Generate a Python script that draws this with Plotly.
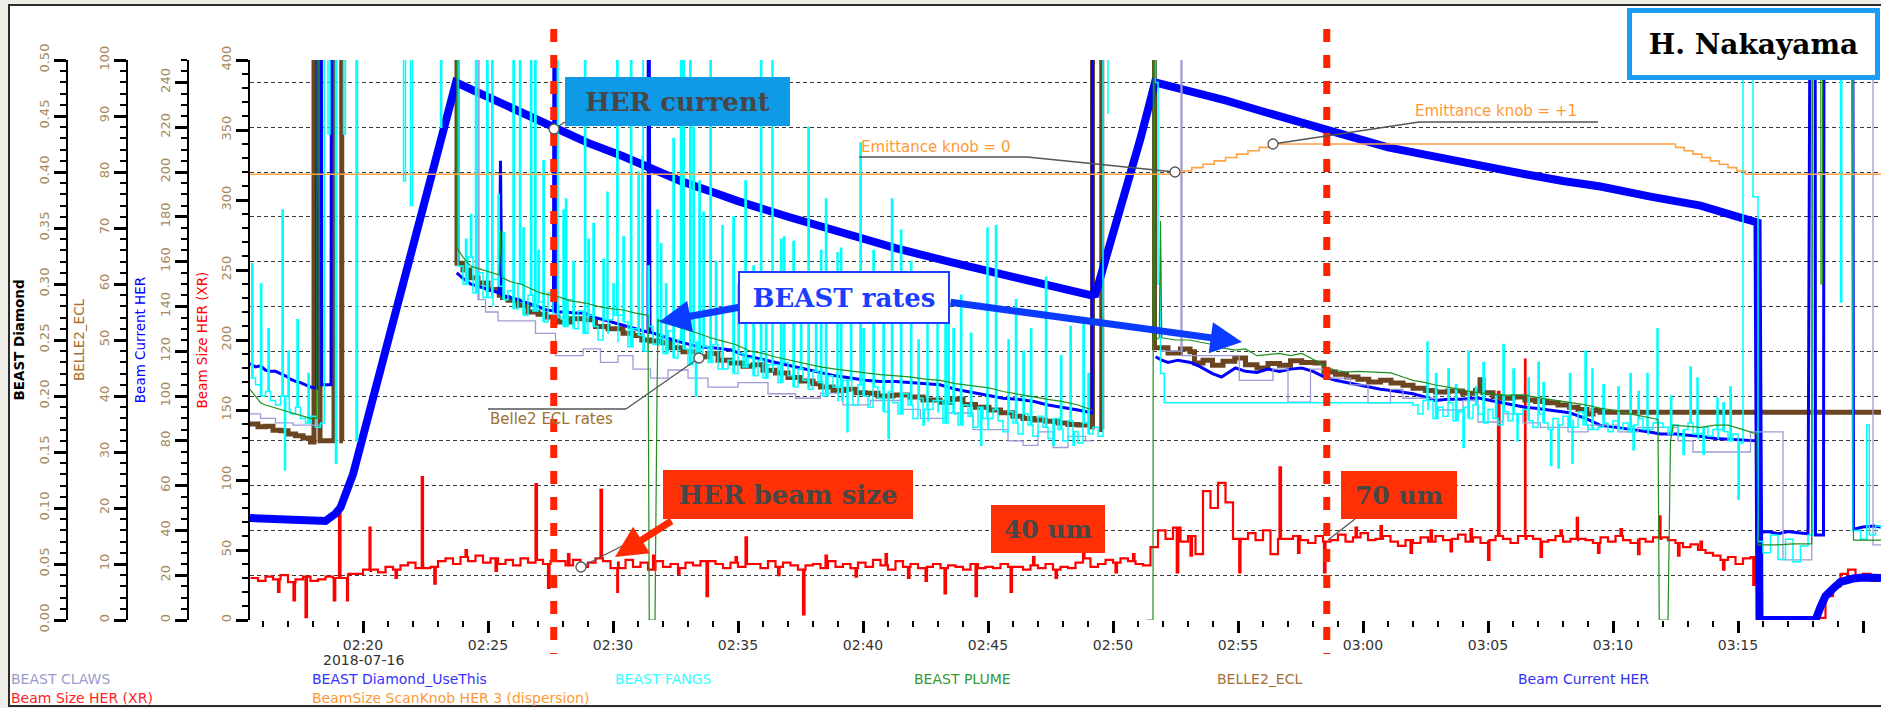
import pandas as pd
import plotly.graph_objects as go

# ---------------------------------------------------------------- data
# time values are minutes after 2018-07-16 02:00:00
DAY0 = pd.Timestamp("2018-07-16 02:00:00")
X_START, X_END = 15.48, 80.72
GAP = (None, None)

legend_names = ["BEAST CLAWS", "BEAST Diamond_UseThis", "BEAST FANGS", "BEAST PLUME",
                "BELLE2_ECL", "Beam Current HER", "Beam Size HER (XR)",
                "BeamSize ScanKnob HER 3 (dispersion)"]

# Beam Current HER [mA]
beam_current = [
    (15.48, 45.5), (16.5, 45.2), (17.5, 44.8), (18.1, 44.0), (18.5, 44.2), (18.9, 47.5), (19.1, 50.2),
    (19.6, 65.0), (20.0, 82.0), (20.6, 108.0), (21.2, 130.0), (21.7, 153.0), (22.2, 175.0), (22.7, 197.0),
    (23.2, 218.0), (23.72, 240.0), (24.5, 236.0), (25.5, 231.0), (26.5, 225.5), (27.64, 219.5), (29.0, 213.0),
    (30.4, 207.0), (31.5, 201.5), (32.7, 196.0), (34.0, 191.0), (35.0, 187.0), (37.0, 180.0), (39.1, 173.0),
    (41.3, 166.0), (43.6, 159.5), (46.3, 152.0), (49.1, 145.0), (49.3, 145.5), (49.9, 168.0), (50.5, 190.0),
    (51.1, 215.0), (51.68, 240.0), (53.0, 236.5), (54.5, 232.0), (56.0, 227.0), (57.5, 222.0), (59.0, 217.0),
    (61.0, 211.0), (63.3, 206.0), (65.0, 202.0), (66.5, 199.0), (68.0, 196.0), (69.5, 193.5), (71.5, 189.0),
    (73.5, 185.0), (75.0, 180.0), (75.78, 177.5), (75.86, 0.0), (76.5, 0.0), (77.5, 0.0), (78.1, 0.0),
    (78.3, 5.8), (78.5, 10.7), (78.8, 14.0), (79.1, 17.0), (79.6, 18.5), (80.0, 19.0), (80.72, 18.7)]

# Beam Size HER (XR) [um]: baseline reading every 0.3 min from 15.5 min ...
size_start, size_step = 15.5, 0.3
beam_size = [
    30, 28, 31, 29, 32, 27, 29, 31, 28, 29,
    31, 30, 33, 32, 33, 36, 35, 34, 38, 36,
    39, 41, 37, 40, 38, 42, 44, 40, 45, 42,
    46, 41, 44, 40, 43, 39, 44, 41, 43, 40,
    42, 42, 39, 43, 38, 41, 44, 42, 37, 41,
    43, 38, 41, 36, 42, 38, 40, 37, 41, 39,
    42, 40, 40, 37, 41, 38, 40, 40, 37, 42,
    38, 41, 39, 36, 39, 40, 37, 42, 38, 40,
    37, 41, 38, 43, 39, 36, 42, 38, 40, 37,
    38, 40, 37, 39, 38, 36, 40, 37, 38, 37,
    40, 38, 38, 36, 39, 37, 40, 36, 38, 37,
    41, 44, 38, 40, 43, 41, 44, 42, 40, 39,
    52, 64, 58, 66, 56, 60, 47, 92, 80, 98,
    84, 58, 56, 62, 57, 64, 47, 58, 58, 60,
    57, 55, 60, 56, 57, 61, 56, 59, 62, 57,
    58, 60, 56, 53, 57, 55, 59, 56, 60, 57,
    58, 61, 56, 59, 55, 57, 60, 58, 55, 60,
    58, 58, 56, 57, 60, 56, 58, 57, 57, 55,
    59, 56, 60, 57, 55, 58, 56, 59, 58, 57,
    55, 52, 54, 50, 48, 46, 43, 45, 40, 44,
    45, 1.5, 1.5, 1.5, 1.5, 1.5, 1.5, 1.5, 1.5, 1.5,
    17, 24, 33, 36, 31, 33, 28, 30]
# ... plus short single-reading spikes (minute, um)
size_spikes = [
    (16.6, 20), (17.22, 14), (17.7, 2), (18.83, 14), (19.04, 82), (19.36, 14), (20.26, 66), (21.3, 30),
    (22.35, 102), (22.85, 26), (24.1, 50), (25.3, 35), (26.9, 97), (27.4, 23), (28.2, 47), (29.5, 93),
    (30.17, 20), (31.6, 46), (32.6, 33), (33.74, 17), (34.9, 45), (35.3, 59), (36.6, 32), (37.6, 4),
    (38.5, 46), (39.7, 31), (40.9, 47), (41.8, 30), (42.5, 28), (43.26, 19), (44.5, 17), (45.9, 20),
    (46.8, 45), (47.7, 30), (48.8, 48), (50.1, 34), (50.8, 47), (52.55, 34), (53.1, 46), (55.05, 34),
    (56.66, 109), (57.4, 48), (58.44, 34), (59.7, 66), (60.7, 67), (61.9, 48), (62.7, 64), (63.5, 49),
    (64.3, 65), (65.0, 43), (65.4, 163), (66.48, 186), (67.1, 45), (67.9, 64), (68.55, 73), (69.4, 48),
    (70.3, 65), (71.0, 47), (71.88, 74), (72.6, 46), (73.5, 56), (74.4, 36), (75.61, 25)]

# BELLE2_ECL
ecl = [
    (15.48, 35.0), (15.8, 34.5), (16.1, 34.6), (16.4, 33.9), (16.7, 33.8), (17.0, 33.2), (17.3, 32.9),
    (17.6, 32.5), (17.9, 31.8), (18.04, 110), (18.28, 32.0), (18.84, 110), (19.15, 32.0), (19.2, 32.0), GAP,
    (23.72, 110), (23.76, 63.7), (24.0, 62.5), (24.26, 61.1), (24.6, 60.2), (25.0, 59.0), (25.45, 58.0),
    (25.5, 67.5), (25.58, 57.6), (25.8, 57.1), (26.2, 56.2), (26.6, 55.0), (27.0, 54.6), (27.3, 54.1),
    (27.8, 53.2), (28.3, 53.8), (28.86, 53.6), (29.3, 52.4), (29.8, 52.0), (30.4, 51.2), (30.8, 50.8),
    (31.15, 50.0), (31.5, 49.8), (31.9, 49.5), (32.3, 48.6), (32.8, 47.9), (33.4, 47.0), (33.8, 47.6),
    (34.2, 46.4), (34.72, 45.9), (35.2, 45.3), (35.6, 45.6), (36.0, 44.6), (36.5, 44.1), (37.0, 43.3),
    (37.5, 42.7), (38.0, 42.2), (38.3, 41.6), (38.8, 41.0), (39.3, 41.2), (39.7, 40.6), (40.1, 40.5),
    (40.6, 40.0), (41.2, 40.2), (41.86, 39.8), (42.4, 39.3), (43.08, 38.9), (43.5, 39.4), (44.0, 38.5),
    (44.5, 38.0), (45.04, 37.5), (45.5, 37.0), (46.0, 36.4), (46.4, 36.0), (46.84, 35.7), (47.3, 35.5),
    (47.8, 35.2), (48.2, 34.9), (48.6, 34.8), (49.16, 34.5), (49.18, 110), (49.55, 34.0), (49.6, 34.0), GAP,
    (51.62, 110), (51.66, 48.6), (52.2, 47.7), (52.7, 48.4), (53.08, 47.9), (53.26, 45.9), (53.6, 46.4),
    (53.98, 45.5), (54.4, 46.2), (54.87, 46.8), (55.3, 45.6), (55.76, 45.0), (56.2, 45.8), (56.66, 45.5),
    (57.1, 46.3), (57.55, 46.0), (58.08, 45.9), (58.44, 44.3), (58.9, 43.9), (59.34, 43.4), (59.8, 43.0),
    (60.23, 42.5), (60.7, 42.8), (61.12, 42.3), (61.6, 41.9), (62.0, 41.4), (62.5, 41.0), (62.9, 40.7),
    (63.4, 40.9), (63.98, 40.5), (64.5, 41.0), (64.68, 42.9), (64.8, 40.6), (65.2, 39.9), (65.59, 39.6),
    (66.0, 39.8), (66.48, 39.3), (66.9, 39.0), (67.36, 38.8), (67.8, 38.4), (68.26, 38.0), (68.6, 37.6),
    (68.96, 36.8), (69.2, 37.4), (69.48, 37.1), (80.72, 37.1)]

# BEAST Diamond_UseThis
diamond = [
    (15.48, 0.229), (15.7, 0.226), (15.9, 0.227), (16.1, 0.223), (16.3, 0.222), (16.5, 0.222), (16.7, 0.220),
    (16.9, 0.218), (17.1, 0.215), (17.3, 0.213), (17.5, 0.212), (17.7, 0.210), (17.9, 0.208), (18.15, 0.207),
    (18.18, 0.8), (18.32, 0.8), (18.35, 0.21), (18.72, 0.21), (18.75, 0.8), (18.8, 0.8), GAP,
    (23.75, 0.31), (24.0, 0.305), (24.3, 0.300), (24.6, 0.298), (24.9, 0.296), (25.2, 0.294), (25.45, 0.292),
    (25.5, 0.41), (25.55, 0.29), (25.9, 0.288), (26.3, 0.285), (26.7, 0.282), (27.0, 0.280), (27.3, 0.277),
    (27.62, 0.276), (27.65, 0.8), (27.69, 0.8), (27.72, 0.275), (28.1, 0.275), (28.5, 0.274), (28.86, 0.274),
    (29.3, 0.270), (29.8, 0.267), (30.4, 0.263), (30.9, 0.260), (31.4, 0.257), (31.42, 0.8), (31.46, 0.8),
    (31.48, 0.257), (31.9, 0.254), (32.4, 0.250), (32.9, 0.247), (33.4, 0.244), (34.0, 0.243), (34.72, 0.241),
    (35.3, 0.236), (35.9, 0.233), (36.5, 0.230), (37.1, 0.227), (37.7, 0.224), (38.3, 0.221), (38.9, 0.218),
    (39.5, 0.216), (40.1, 0.214), (40.7, 0.213), (41.3, 0.213), (41.86, 0.212), (42.5, 0.211), (43.08, 0.210),
    (43.7, 0.206), (44.4, 0.203), (45.04, 0.200), (45.6, 0.198), (46.2, 0.197), (46.84, 0.195), (47.4, 0.192),
    (48.0, 0.190), (48.6, 0.1875), (49.16, 0.185), (49.19, 0.8), (49.23, 0.8), GAP,
    (51.7, 0.235), (51.95, 0.232), (52.2, 0.230), (52.6, 0.232), (53.1, 0.230), (53.5, 0.226), (53.98, 0.220),
    (54.34, 0.217), (54.9, 0.225), (55.3, 0.222), (55.76, 0.221), (56.2, 0.224), (56.66, 0.222), (57.1, 0.224),
    (57.55, 0.225), (58.0, 0.222), (58.44, 0.217), (58.9, 0.214), (59.34, 0.212), (59.8, 0.210), (60.23, 0.208),
    (60.7, 0.206), (61.12, 0.205), (61.6, 0.203), (62.0, 0.202), (62.5, 0.199), (62.9, 0.196), (63.4, 0.197),
    (63.98, 0.197), (64.3, 0.198), (64.68, 0.198), (65.1, 0.196), (65.59, 0.194), (66.0, 0.192), (66.48, 0.190),
    (66.9, 0.189), (67.36, 0.1875), (67.8, 0.186), (68.26, 0.185), (68.9, 0.180), (69.48, 0.174), (70.1, 0.172),
    (70.8, 0.170), (71.4, 0.168), (71.9, 0.166), (72.5, 0.166), (73.0, 0.165), (73.48, 0.164), (74.1, 0.162),
    (74.8, 0.161), (75.3, 0.160), (75.76, 0.160), (75.8, 0.078), (76.2, 0.079), (76.6, 0.077), (77.0, 0.079),
    (77.4, 0.078), (77.8, 0.077), (77.92, 0.8), (78.08, 0.8), (78.1, 0.076), (78.42, 0.076), (78.45, 0.8),
    (79.58, 0.8), (79.62, 0.081), (80.0, 0.083), (80.4, 0.084), (80.72, 0.083)]

# BEAST PLUME (arbitrary units)
plume = [
    (15.48, 103), (15.7, 100), (15.9, 97), (16.1, 96), (16.4, 95), (16.7, 94), (17.0, 93), (17.3, 92),
    (17.6, 91), (17.9, 90), (18.15, 90), (18.18, 400), (18.22, 400), (18.25, 90), (18.3, 90), GAP,
    (23.74, 400), (23.76, 166), (24.0, 162), (24.3, 158), (24.6, 157), (24.9, 156), (25.2, 155), (25.45, 154),
    (25.5, 174), (25.55, 153), (25.9, 151), (26.3, 150), (26.7, 148), (27.1, 146), (27.5, 145), (27.9, 144),
    (28.3, 142.5), (28.9, 141.5), (29.4, 140), (29.9, 139), (30.4, 138.4), (30.9, 137), (31.4, 136), (31.45, 0),
    (31.68, 0), (31.72, 60), (31.76, 100), (31.8, 134), (32.3, 132), (32.8, 130), (33.4, 128), (33.9, 126),
    (34.4, 124.5), (34.9, 123), (35.5, 120), (36.0, 119), (36.5, 117.4), (37.1, 116), (37.7, 114.5),
    (38.3, 113), (38.9, 112), (39.5, 111), (40.1, 110.3), (40.7, 109.5), (41.3, 109), (41.86, 108.5),
    (42.5, 107.5), (43.08, 107), (43.7, 105.5), (44.4, 104.5), (45.04, 103.6), (45.6, 102), (46.2, 101),
    (46.84, 99.6), (47.4, 98.5), (48.0, 97.5), (48.6, 96), (49.16, 93.75), GAP,
    (51.35, 0), (51.6, 0), (51.62, 400), (51.66, 400), (51.68, 125), (51.85, 126), (51.9, 178), (51.95, 126),
    (52.5, 125), (53.08, 125), (53.5, 124), (53.98, 123), (54.4, 121.5), (54.87, 120.5), (55.3, 121),
    (55.76, 118), (56.2, 118.5), (56.66, 119), (57.1, 118), (57.55, 119), (58.08, 116), (58.5, 113),
    (58.9, 111.5), (59.34, 110.7), (59.8, 111), (60.23, 110.7), (60.7, 110.3), (61.12, 110.3), (61.6, 108.5),
    (62.0, 107), (62.5, 106), (62.9, 104.9), (63.4, 104), (63.8, 103), (64.3, 102), (64.68, 101.3),
    (65.2, 101), (65.6, 100.4), (66.48, 100.4), (67.0, 99.3), (67.5, 98.5), (68.26, 97.3), (68.9, 96),
    (69.48, 94.6), (70.0, 93.75), (70.7, 92), (71.3, 90.5), (71.8, 89.5), (71.85, 0), (72.2, 0), (72.25, 40),
    (72.3, 80), (72.4, 87), (73.0, 86.5), (73.48, 86), (74.1, 87), (74.6, 87), (75.2, 85), (75.76, 83),
    (75.8, 33.5), (76.5, 33.5), (77.2, 34), (77.95, 34), (78.0, 400), (78.3, 400), (78.32, 150), (78.38, 150),
    (78.4, 400), (79.58, 400), (79.62, 35.7), (80.72, 35.7)]

# BEAST CLAWS (arbitrary units, stepped)
claws = [
    (15.48, 92), (15.9, 90), (16.5, 88), (17.2, 87), (17.9, 87), (18.3, 87), GAP,
    (24.58, 143), (24.6, 400), (24.64, 143), (24.9, 137.5), (25.4, 133.5), (26.9, 128), (27.7, 118),
    (28.8, 121), (29.5, 115), (30.2, 118), (30.8, 112), (31.5, 108), (32.2, 111.6), (33.0, 108), (33.8, 104),
    (35.0, 106), (36.2, 101), (37.3, 99), (38.3, 101.3), (39.2, 96), (40.3, 98), (41.5, 94), (42.3, 90),
    (43.3, 92.4), (44.4, 85), (45.8, 80), (46.4, 78), (47.0, 84), (47.6, 77), (48.2, 82), (48.9, 80),
    (49.15, 80), GAP,
    (51.9, 120), (52.72, 400), (52.76, 118), (55.05, 107), (56.4, 112), (57.0, 97.3), (57.9, 112), (58.5, 108),
    (59.5, 105), (60.2, 96.9), (61.1, 103), (61.6, 99), (62.9, 93.75), (64.0, 98), (64.6, 88.4), (65.6, 92),
    (66.4, 88), (67.1, 86), (68.2, 84), (69.0, 87), (70.2, 84), (71.0, 86), (72.6, 80), (73.2, 75),
    (75.5, 84), (76.8, 26.8), (77.95, 400), (80.4, 33.5), (80.72, 33.5)]

# BEAST FANGS (arbitrary units): baseline readings every 0.2 min plus single-reading spikes
fangs_step = 0.2
fangs_a_start = 15.5
fangs_a = [108, 105, 100, 102, 98, 96, 100, 94, 92, 95, 90, 88, 91, 86, 88]
fangs_a_spikes = [(15.55, 159), (15.9, 150), (16.2, 130), (16.76, 183), (16.86, 67), (17.0, 120),
                  (17.36, 134), (17.8, 110)]
fangs_injection = [
    (18.45, 400), (18.6, 217), (18.68, 400), (18.86, 400), (18.9, 70), (18.95, 400), (19.18, 400),
    (19.22, 217), (19.3, 400), (19.65, 400), (19.72, 80), (19.78, 400), GAP,
    (21.55, 400), (21.62, 196), (21.7, 400), (21.85, 400), (21.9, 185), (21.98, 400), GAP,
    (23.05, 400), (23.1, 220), (23.15, 400), GAP, (23.7, 400)]
fangs_b_start = 23.8
fangs_b = [
    158, 150, 162, 146, 155, 144, 152, 140, 149, 143,
    147, 139, 150, 136, 145, 138, 142, 133, 146, 135,
    140, 131, 143, 130, 138, 128, 136, 131, 125, 134,
    128, 136, 124, 133, 122, 130, 127, 120, 131, 123,
    127, 119, 129, 117, 125, 121, 114, 124, 118, 122,
    115, 123, 112, 120, 116, 110, 119, 113, 117, 109,
    116, 108, 114, 111, 106, 115, 109, 104, 112, 107,
    103, 111, 106, 100, 109, 104, 98, 107, 102, 96,
    105, 100, 95, 104, 99, 93, 102, 97, 92, 101,
    96, 90, 99, 94, 89, 98, 93, 88, 97, 92,
    87, 96, 91, 86, 95, 90, 85, 94, 89, 84,
    93, 88, 83, 92, 87, 82, 91, 86, 81, 90,
    85, 80, 89, 84, 79, 88, 83, 86, 82, 400,
    226]
fangs_b_spikes = [
    (24.1, 170), (24.3, 181), (24.5, 400), (24.95, 400), (25.15, 400), (25.4, 190), (25.6, 173),
    (26.0, 400), (26.26, 400), (26.4, 175), (26.7, 400), (26.87, 400), (27.0, 165), (27.2, 205),
    (27.78, 400), (28.0, 183), (28.1, 188), (28.4, 160), (28.86, 400), (29.0, 170), (29.2, 177),
    (29.6, 161), (29.76, 191), (30.0, 150), (30.15, 400), (30.4, 171), (30.7, 400), (31.0, 200),
    (31.16, 207), (31.2, 400), (31.4, 158), (31.76, 183), (31.9, 168), (32.1, 150), (32.4, 215),
    (32.7, 400), (32.8, 400), (33.07, 400), (33.2, 220), (33.3, 100), (33.44, 196), (33.6, 182),
    (33.88, 400), (34.1, 160), (34.36, 176), (34.8, 180), (35.0, 150), (35.28, 196), (35.6, 158),
    (35.9, 400), (36.1, 140), (36.36, 400), (36.7, 170), (36.82, 171), (37.2, 169), (37.5, 150),
    (37.8, 220), (38.1, 140), (38.3, 165), (38.5, 188), (38.96, 164), (39.1, 166), (39.36, 84),
    (39.5, 135), (39.88, 213), (40.0, 130), (40.4, 165), (40.8, 138), (41.0, 81), (41.14, 188),
    (41.5, 174), (41.9, 160), (42.2, 125), (42.4, 87), (42.56, 153), (42.96, 146), (43.28, 143),
    (43.4, 138), (43.6, 130), (43.9, 145), (44.3, 128), (44.7, 78), (44.96, 175), (45.3, 176),
    (45.8, 125), (46.1, 143), (46.4, 120), (46.7, 130), (47.3, 153), (47.6, 78), (47.9, 118),
    (48.28, 131), (48.4, 78), (48.8, 135), (49.0, 110)]
fangs_c = [(51.62, 400), (51.7, 240), (51.8, 150), (51.9, 110), (52.05, 97), (61.9, 97)]
fangs_d_start = 62.0
fangs_d = [
    96, 92, 98, 94, 90, 95, 91, 97, 89, 93,
    95, 90, 96, 92, 88, 94, 90, 87, 93, 89,
    92, 88, 94, 89, 86, 92, 88, 85, 90, 87,
    91, 86, 89, 93, 87, 85, 90, 86, 88, 84,
    89, 85, 88, 84, 87, 90, 85, 83, 88, 84,
    86, 83, 87, 82, 85, 88, 83, 81, 86, 82,
    85, 81, 84, 80, 83, 79, 400, 400, 189, 35]
fangs_d_spikes = [
    (62.56, 124), (62.9, 110), (63.4, 112), (63.7, 105), (64.0, 77), (64.2, 120), (64.5, 104),
    (64.8, 115), (65.3, 100), (65.6, 123), (66.0, 112), (66.16, 80), (66.6, 108), (67.0, 115),
    (67.2, 106), (67.5, 69), (67.8, 68), (68.26, 110), (68.36, 70), (68.88, 120), (69.16, 112),
    (69.6, 105), (70.2, 104), (70.68, 110), (70.8, 76), (71.0, 102), (71.36, 110), (71.76, 130),
    (72.3, 100), (72.8, 74), (73.08, 113), (73.36, 108), (73.6, 74), (74.16, 99), (74.4, 97),
    (74.68, 104), (75.0, 54)]
fangs_e = [
    (76.0, 30), (76.3, 38), (76.6, 27), (76.9, 36), (77.2, 26), (77.5, 33), (77.8, 38), (78.0, 400),
    (79.05, 400), (79.1, 142), (79.15, 400), (79.55, 400), (79.6, 40), (79.9, 36), (80.15, 87), (80.25, 38),
    (80.5, 42), (80.72, 41)]

# BeamSize ScanKnob HER 3 (dispersion): emittance knob setting
knob = [
    (15.48, 0), (52.7, 0.111), (53.15, 0.222), (53.6, 0.333), (54.05, 0.444), (54.5, 0.556), (54.95, 0.667),
    (55.4, 0.778), (55.85, 0.889), (56.3, 1.0), (72.5, 0.889), (72.85, 0.778), (73.2, 0.667), (73.55, 0.556),
    (73.9, 0.444), (74.25, 0.333), (74.6, 0.222), (74.95, 0.111), (75.3, 0.0), (80.72, 0.0)]

marker_times = [27.63, 58.55]   # red dashed markers


# ---------------------------------------------------------------- helpers
def ts(m):
    if m is None:
        return None
    return (DAY0 + pd.Timedelta(minutes=m)).strftime("%Y-%m-%d %H:%M:%S.%f")[:-3]


def unzip(pairs):
    return [ts(p[0]) for p in pairs], [p[1] for p in pairs]


def gridded(start, step, vals):
    return [(round(start + step * i, 3), v) for i, v in enumerate(vals)]


def with_spikes(base_pairs, spikes, width=0.05):
    """Insert one-reading spikes into a stepped series; after each spike the
    series returns to the baseline reading that was in effect."""
    pts = list(base_pairs)
    for t, v in spikes:
        prev = [b for b in base_pairs if b[0] <= t]
        back = prev[-1][1] if prev else base_pairs[0][1]
        pts.append((t, v))
        pts.append((round(t + width, 3), back))
    return sorted(pts, key=lambda p: p[0])


fangs_pairs = (with_spikes(gridded(fangs_a_start, fangs_step, fangs_a), fangs_a_spikes)
               + fangs_injection
               + with_spikes(gridded(fangs_b_start, fangs_step, fangs_b), fangs_b_spikes)
               + [GAP] + fangs_c
               + with_spikes(gridded(fangs_d_start, fangs_step, fangs_d), fangs_d_spikes)
               + fangs_e)
size_pairs = with_spikes(gridded(size_start, size_step, beam_size), size_spikes, 0.06)

W, H = 1881, 708
TOP, BOT = 60, 620


def px(x):
    return x / W


def py(y):
    return (BOT - y) / (BOT - TOP)


SANS = "DejaVu Sans"
SERIF = "DejaVu Serif"

fig = go.Figure()


def add(pairs, name, color, width, yaxis, shape="linear"):
    x, y = unzip(pairs)
    fig.add_trace(go.Scatter(x=x, y=y, mode="lines", name=name, yaxis=yaxis,
                             line=dict(color=color, width=width, shape=shape),
                             connectgaps=False, showlegend=False, hoverinfo="skip"))


add(claws, legend_names[0], "#9c9cd8", 1.3, "y5", "hv")
add(fangs_pairs, legend_names[2], "#00ffff", 1.5, "y5", "hv")
add(diamond, legend_names[1], "#0000ff", 3, "y4")
add(plume, legend_names[3], "#1f8f1f", 1.2, "y5")
add(ecl, legend_names[4], "#6b4421", 5, "y2", "hv")
add(beam_current, legend_names[5], "#0000ff", 8, "y3")
add(size_pairs, legend_names[6], "#ff0000", 2.2, "y", "hv")
add(knob, legend_names[7], "#ffa347", 1.6, "y6", "hv")

TICKC = "#a88a60"


def left_axis(title, tcolor, rng, dtick, minor, pos=None, bold=False, grid=False, fmt=None):
    d = dict(range=rng, dtick=dtick, tick0=0, tickangle=-90, ticks="outside", ticklen=12,
             tickwidth=2.5, tickcolor="black", showline=True, linecolor="black", linewidth=2,
             tickfont=dict(family=SANS, size=13, color=TICKC),
             title=dict(text=("<b>%s</b>" % title) if bold else title, standoff=8,
                        font=dict(family=SANS, size=13.5, color=tcolor)),
             minor=dict(dtick=minor, ticks="outside", ticklen=6, tickwidth=1.5, tickcolor="black",
                        showgrid=False),
             zeroline=False, showgrid=grid, side="left", fixedrange=True)
    if grid:
        d.update(gridcolor="#3a3a3a", gridwidth=1.1, griddash="4px,3px")
    if fmt:
        d["tickformat"] = fmt
    if pos is not None:
        d.update(anchor="free", overlaying="y", position=pos)
    else:
        d.update(anchor="x")
    return d


fig.update_layout(
    width=W, height=H,
    margin=dict(l=0, r=0, t=TOP, b=H - BOT),
    paper_bgcolor="#efede8", plot_bgcolor="rgba(0,0,0,0)",
    showlegend=False,
    xaxis=dict(domain=[px(250), 1.0], type="date", range=[ts(X_START), ts(X_END)],
               tick0=ts(0), dtick=300000, tickformat="%H:%M", ticks="outside", ticklen=12,
               tickwidth=3, tickcolor="black", showgrid=False, showline=False, zeroline=False,
               tickfont=dict(family=SANS, size=14, color="#333333"),
               minor=dict(dtick=60000, ticks="outside", ticklen=6, tickwidth=1.5, tickcolor="black",
                          showgrid=False)),
    yaxis=left_axis("Beam Size HER (XR)", "#ff0000", [0, 400], 50, 10),
    yaxis2=left_axis("BELLE2_ECL", "#a8702e", [0, 100], 10, 2, pos=px(127)),
    yaxis3=left_axis("Beam Current HER", "#0000ff", [0, 250], 20, 5, pos=px(188), grid=True),
    yaxis4=left_axis("BEAST Diamond", "#000000", [0, 0.5], 0.05, 0.01, pos=px(67), bold=True, fmt=".2f"),
    yaxis5=dict(range=[0, 250], overlaying="y", anchor="free", position=px(250), visible=False,
                fixedrange=True),
    yaxis6=dict(range=[-14.74, 3.78], overlaying="y", anchor="free", position=px(250), visible=False,
                fixedrange=True),
)

shapes = []
# outer frame
shapes.append(dict(type="rect", xref="paper", yref="paper", x0=px(9), x1=px(W + 6), y0=py(706), y1=py(5),
                   fillcolor="white", line=dict(color="#2b2b2b", width=2), layer="below"))
# red dashed markers
for m in marker_times:
    shapes.append(dict(type="line", xref="x", yref="paper", x0=ts(m), x1=ts(m), y0=py(29), y1=py(654),
                       line=dict(color="#ff2200", width=7, dash="13px,13px"), layer="above"))
# leader lines (pixel positions)
leaders = [
    [(554, 129), (565, 122)],
    [(1175, 172), (1027, 157), (859, 157)],
    [(1273, 144), (1419, 122), (1598, 122)],
    [(699, 358), (626, 409), (488, 409)],
    [(581, 567), (624, 545)],
    [(1328, 540), (1355, 519)],
]
for seg in leaders:
    for (a, b) in zip(seg[:-1], seg[1:]):
        shapes.append(dict(type="line", xref="paper", yref="paper", x0=px(a[0]), y0=py(a[1]),
                           x1=px(b[0]), y1=py(b[1]), line=dict(color="#555555", width=1.3), layer="above"))
for (cx, cy) in [(554, 129), (1175, 172), (1273, 144), (699, 358), (581, 567)]:
    r = 5
    shapes.append(dict(type="circle", xref="paper", yref="paper", x0=px(cx - r), x1=px(cx + r),
                       y0=py(cy + r), y1=py(cy - r), fillcolor="white",
                       line=dict(color="#555555", width=1.3), layer="above"))
fig.update_layout(shapes=shapes)

ann = []


def box(text, x0, x1, y0, y1, fill, border, bw, color, size):
    ann.append(dict(xref="paper", yref="paper", x=px((x0 + x1) / 2), y=py((y0 + y1) / 2),
                    xanchor="center", yanchor="middle", showarrow=False,
                    text="<b>%s</b>" % text, font=dict(family=SERIF, size=size, color=color),
                    width=x1 - x0 - bw, height=y1 - y0 - bw, bgcolor=fill, bordercolor=border,
                    borderwidth=bw, borderpad=0, align="center", valign="middle"))


def arrow(tail, tip, color, width=7, size=0.9):
    ann.append(dict(xref="paper", yref="paper", x=px(tip[0]), y=py(tip[1]), text="",
                    showarrow=True, axref="pixel", ayref="pixel",
                    ax=tail[0] - tip[0], ay=tail[1] - tip[1], arrowhead=2, arrowsize=size,
                    arrowwidth=width, arrowcolor=color, standoff=0, startstandoff=0))


arrow((741, 307), (659, 322), "#0a3cff")
arrow((949, 302), (1242, 342), "#0a3cff")
arrow((673, 520), (615, 557), "#ff2a00")

box("HER current", 565, 790, 77, 126, "#0e9ae6", "#0e9ae6", 0, "#474747", 26)
box("BEAST rates", 739, 949, 272, 323, "white", "#1a3dff", 2, "#1a3dff", 26)
box("HER beam size", 663, 913, 470, 519, "#ff3005", "#ff3005", 0, "#474747", 26)
box("40 um", 991, 1105, 505, 553, "#ff3005", "#ff3005", 0, "#474747", 25)
box("70 um", 1341, 1457, 471, 519, "#ff3005", "#ff3005", 0, "#474747", 25)
box("H. Nakayama", 1629, 1877, 11, 78, "white", "#1a9cf5", 5, "#000000", 28)


def label(text, x, y, color, size=15, anchor="left"):
    ann.append(dict(xref="paper", yref="paper", x=px(x), y=py(y), xanchor=anchor, yanchor="middle",
                    showarrow=False, text=text, font=dict(family=SANS, size=size, color=color)))


label("Emittance knob = 0", 859, 147, "#ff9a33")
label("Emittance knob = +1", 1413, 111, "#ff9a33")
label("Belle2 ECL rates", 488, 419, "#a0702e")
label("2018-07-16", 363, 660, "#333333", 14, "center")

legend_colors = ["#9c9ccc", "#3333ff", "#33ffff", "#339933", "#a0703a", "#3333ee", "#ff2020", "#ff9933"]
legend_x = [9, 310, 613, 912, 1215, 1516, 9, 310]
legend_y = [679] * 6 + [698] * 2
for name, c, lx, ly in zip(legend_names, legend_colors, legend_x, legend_y):
    label(name, lx, ly, c, 14)

fig.update_layout(annotations=ann)
fig.write_html("out.html", config={"displayModeBar": False},
               post_script="document.body.style.margin='0';document.body.style.overflow='hidden';")
